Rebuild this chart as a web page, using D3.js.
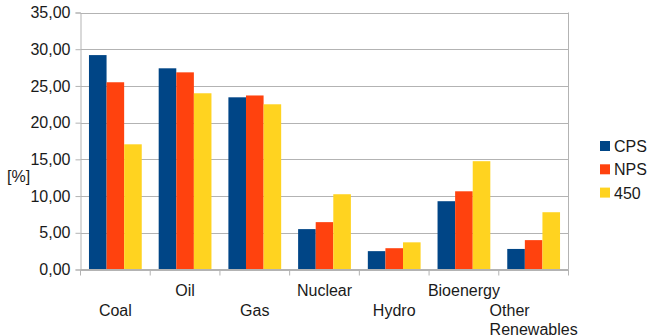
<!DOCTYPE html>
<html>
<head>
<meta charset="utf-8">
<script src="https://cdn.jsdelivr.net/npm/d3@7"></script>
<style>
  html, body { margin: 0; padding: 0; background: #fff; }
  svg { display: block; font-family: "Liberation Sans", Arial, sans-serif; }
</style>
</head>
<body>
<svg id="chart" width="648" height="336"></svg>
<script>
// Share of primary energy by source under three scenarios
const categories = ["Coal", "Oil", "Gas", "Nuclear", "Hydro", "Bioenergy", "Other Renewables"];
const seriesNames = ["CPS", "NPS", "450"];
const cpsValues = [29.2, 27.4, 23.45, 5.5, 2.5, 9.3, 2.8];
const npsValues = [25.5, 26.85, 23.7, 6.45, 2.9, 10.65, 4.0];
const s450Values = [17.05, 24.0, 22.5, 10.25, 3.7, 14.75, 7.8];
const yTicks = [0, 5, 10, 15, 20, 25, 30, 35];
const colors = ["#004586", "#ff420e", "#ffd320"];

const seriesValues = [cpsValues, npsValues, s450Values];

const svg = d3.select("#chart");
const margin = { left: 80.5, right: 648 - 568.5, top: 12.5, bottom: 336 - 269.5 };
const W = 648, H = 336;
const fontSize = 16;
const textColor = "#1a1a1a";
const gridColor = "#b3b3b3";

const x = d3.scaleBand()
  .domain(categories)
  .range([margin.left, W - margin.right])
  .paddingInner(0.243)
  .paddingOuter(0.1215);

const x1 = d3.scaleBand()
  .domain(seriesNames)
  .range([0, x.bandwidth()]);

const band = d3.scaleBand().domain(categories).range([margin.left, W - margin.right]);

const y = d3.scaleLinear()
  .domain([0, 35])
  .range([H - margin.bottom, margin.top]);

// Horizontal grid
svg.append("g")
  .selectAll("line")
  .data(yTicks)
  .join("line")
  .attr("x1", margin.left)
  .attr("x2", W - margin.right)
  .attr("y1", d => Math.round(y(d)) + 0.5)
  .attr("y2", d => Math.round(y(d)) + 0.5)
  .attr("stroke", gridColor)
  .attr("stroke-width", 1);

// Right frame edge
svg.append("line")
  .attr("x1", W - margin.right).attr("x2", W - margin.right)
  .attr("y1", y(35)).attr("y2", y(0))
  .attr("stroke", gridColor);

// Bars
const rows = categories.map((c, i) => ({ cat: c, vals: seriesNames.map((s, k) => ({ s, k, v: seriesValues[k][i] })) }));
svg.append("g")
  .selectAll("g")
  .data(rows)
  .join("g")
  .attr("transform", d => `translate(${x(d.cat)},0)`)
  .selectAll("rect")
  .data(d => d.vals)
  .join("rect")
  .attr("x", d => x1(d.s))
  .attr("width", x1.bandwidth())
  .attr("y", d => y(d.v))
  .attr("height", d => y(0) - y(d.v))
  .attr("fill", d => colors[d.k]);

// Y axis
const yAxis = d3.axisLeft(y)
  .tickValues(yTicks)
  .tickSize(5)
  .tickPadding(5)
  .tickFormat(d => d3.format(".2f")(d).replace(".", ","));
const gy = svg.append("g")
  .attr("transform", `translate(${margin.left},0)`)
  .call(yAxis);
gy.select(".domain").attr("stroke", gridColor);
gy.selectAll(".tick line").attr("stroke", gridColor);
gy.selectAll(".tick text")
  .attr("fill", textColor)
  .style("font-size", fontSize + "px")
  .style("font-family", "Liberation Sans, Arial, sans-serif");

// X axis line with ticks at category boundaries
const bounds = categories.map(c => band(c)).concat([W - margin.right]);
svg.append("line")
  .attr("x1", margin.left).attr("x2", W - margin.right)
  .attr("y1", y(0)).attr("y2", y(0))
  .attr("stroke", gridColor);
svg.append("g")
  .selectAll("line")
  .data(bounds)
  .join("line")
  .attr("x1", d => d).attr("x2", d => d)
  .attr("y1", y(0)).attr("y2", y(0) + 6)
  .attr("stroke", gridColor);

// Staggered category labels
const labelRows = [y(0) + 26, y(0) + 46];
svg.append("g")
  .selectAll("text")
  .data(categories)
  .join("text")
  .attr("x", d => band(d) + band.bandwidth() / 2)
  .attr("y", (d, i) => labelRows[i % 2 === 0 ? 1 : 0])
  .attr("text-anchor", "middle")
  .attr("fill", textColor)
  .style("font-size", fontSize + "px")
  .each(function(d) {
    const words = d.split(" ");
    const t = d3.select(this);
    const xx = t.attr("x");
    if (words.length > 1) {
      t.attr("text-anchor", "start");
      const center = band(d) + band.bandwidth() / 2;
      words.forEach((w, j) => {
        t.append("tspan").attr("x", xx).attr("dy", j === 0 ? 0 : 19).text(w);
      });
      // left-align the lines, block centred on the category
      const widest = Math.max(...t.selectAll("tspan").nodes().map(n => n.getComputedTextLength()));
      t.selectAll("tspan").attr("x", center - widest / 2);
    } else {
      t.text(d);
    }
  });

// Y axis title
svg.append("text")
  .attr("x", 7)
  .attr("y", 182)
  .attr("fill", textColor)
  .style("font-size", fontSize + "px")
  .text("[%]");

// Legend
const legend = svg.append("g")
  .selectAll("g")
  .data(seriesNames)
  .join("g")
  .attr("transform", (d, i) => `translate(600,${141 + i * 23.3})`);
legend.append("rect")
  .attr("width", 10).attr("height", 10)
  .attr("fill", (d, i) => colors[i]);
legend.append("text")
  .attr("x", 14)
  .attr("y", 11)
  .attr("fill", textColor)
  .style("font-size", fontSize + "px")
  .text(d => d);
</script>
</body>
</html>
